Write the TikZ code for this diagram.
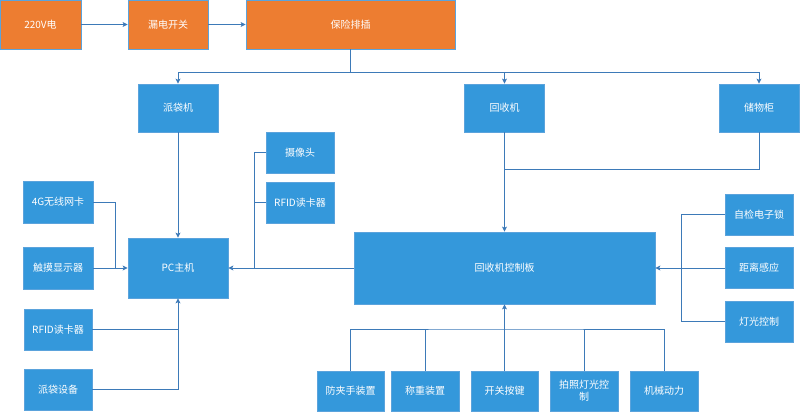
\documentclass[tikz,border=0pt]{standalone}
\usepackage{fontspec}
\setmainfont{Noto Sans CJK SC}
\usetikzlibrary{arrows.meta}
\definecolor{boxblue}{HTML}{3498DB}
\definecolor{boxorange}{HTML}{ED7D31}
\definecolor{edgeblue}{HTML}{5BA3DC}
\definecolor{lineblue}{HTML}{3D7AB8}
\begin{document}
\begin{tikzpicture}[x=1pt,y=-1pt,
  bbox/.style={draw=edgeblue,line width=0.8pt,fill=boxblue,text=white,inner sep=0pt,
    font=\fontsize{10}{12}\selectfont,align=center},
  obox/.style={bbox,fill=boxorange},
  conn/.style={draw=lineblue,line width=0.9pt},
  arr/.style={conn,-{Stealth[length=5pt,width=5pt,inset=1.2pt]}}]
\useasboundingbox (0,0) rectangle (800,412);
% orange row
\node[obox,minimum width=81pt,minimum height=49pt] (p220) at (40.5,24.5) {220V电};
\node[obox,minimum width=80pt,minimum height=49pt] (ld) at (168,24.5) {漏电开关};
\node[obox,minimum width=209pt,minimum height=49pt] (bx) at (350.5,24.5) {保险排插};
% second row
\node[bbox,minimum width=80pt,minimum height=48pt] (pdj) at (178,108) {派袋机};
\node[bbox,minimum width=80pt,minimum height=48pt] (hsj) at (504.5,108) {回收机};
\node[bbox,minimum width=80pt,minimum height=48pt] (cwg) at (759,108) {储物柜};
% PC side
\node[bbox,minimum width=68pt,minimum height=41pt] (sxt) at (300,152.5) {摄像头};
\node[bbox,minimum width=68pt,minimum height=41pt] (rfida) at (300,202.5) {RFID读卡器};
\node[bbox,minimum width=70pt,minimum height=42pt] (g4) at (58,202) {4G无线网卡};
\node[bbox,minimum width=70pt,minimum height=42pt] (cm) at (58,268) {触摸显示器};
\node[bbox,minimum width=100pt,minimum height=60pt] (pc) at (178,268) {PC主机};
\node[bbox,minimum width=68pt,minimum height=41pt] (rfidb) at (58,329.5) {RFID读卡器};
\node[bbox,minimum width=68pt,minimum height=41pt] (pdsb) at (58,389.5) {派袋设备};
% control board side
\node[bbox,minimum width=301pt,minimum height=72pt] (kzb) at (504.5,268) {回收机控制板};
\node[bbox,minimum width=68pt,minimum height=41pt] (zj) at (759,214.5) {自检电子锁};
\node[bbox,minimum width=68pt,minimum height=41pt] (jl) at (759,268) {距离感应};
\node[bbox,minimum width=68pt,minimum height=41pt] (dg) at (759,321.5) {灯光控制};
% bottom row
\node[bbox,minimum width=67pt,minimum height=40pt] (fj) at (350.5,391) {防夹手装置};
\node[bbox,minimum width=68pt,minimum height=40pt] (cz) at (425,391) {称重装置};
\node[bbox,minimum width=67pt,minimum height=40pt] (kg) at (504.5,391) {开关按键};
\node[bbox,minimum width=68pt,minimum height=40pt] (pz) at (584,391) {拍照灯光控\\制};
\node[bbox,minimum width=68pt,minimum height=40pt] (jx) at (664,391) {机械动力};
% junction coordinates
\coordinate (bus1) at (350.5,72);
\coordinate (j4g) at (115,268);
\coordinate (jcam) at (254,268);
\coordinate (jhs) at (504.5,169);
\coordinate (jlock) at (681,214.5);
\coordinate (bus2) at (504.5,329);
% connectors
\draw[arr] (p220.east) -- (ld.west);
\draw[arr] (ld.east) -- (bx.west);
\draw[conn] (bx.south) -- (bus1);
\draw[arr] (bus1) -| (pdj.north);
\draw[arr] (bus1) -| (hsj.north);
\draw[arr] (bus1) -| (cwg.north);
\draw[arr] (pdj.south) -- (pc.north);
\draw[conn] (g4.east) -| (j4g);
\draw[arr] (cm.east) -- (pc.west);
\draw[conn] (sxt.west) -| (jcam);
\draw[conn] (rfida.west) -- (rfida.west -| jcam);
\draw[arr] (kzb.west) -- (pc.east);
\draw[conn] (rfidb.east) -- (rfidb.east -| pc.south);
\draw[arr] (pdsb.east) -| (pc.south);
\draw[conn] (cwg.south) |- (jhs);
\draw[arr] (hsj.south) -- (kzb.north);
\draw[conn] (zj.west) -- (jlock) |- (dg.west);
\draw[arr] (jl.west) -- (kzb.east);
\draw[conn] (fj.north) |- (bus2) -| (jx.north);
\draw[conn] (cz.north) -- (cz.north |- bus2);
\draw[conn] (pz.north) -- (pz.north |- bus2);
\draw[arr] (kg.north) -- (kzb.south);
\end{tikzpicture}
\end{document}
